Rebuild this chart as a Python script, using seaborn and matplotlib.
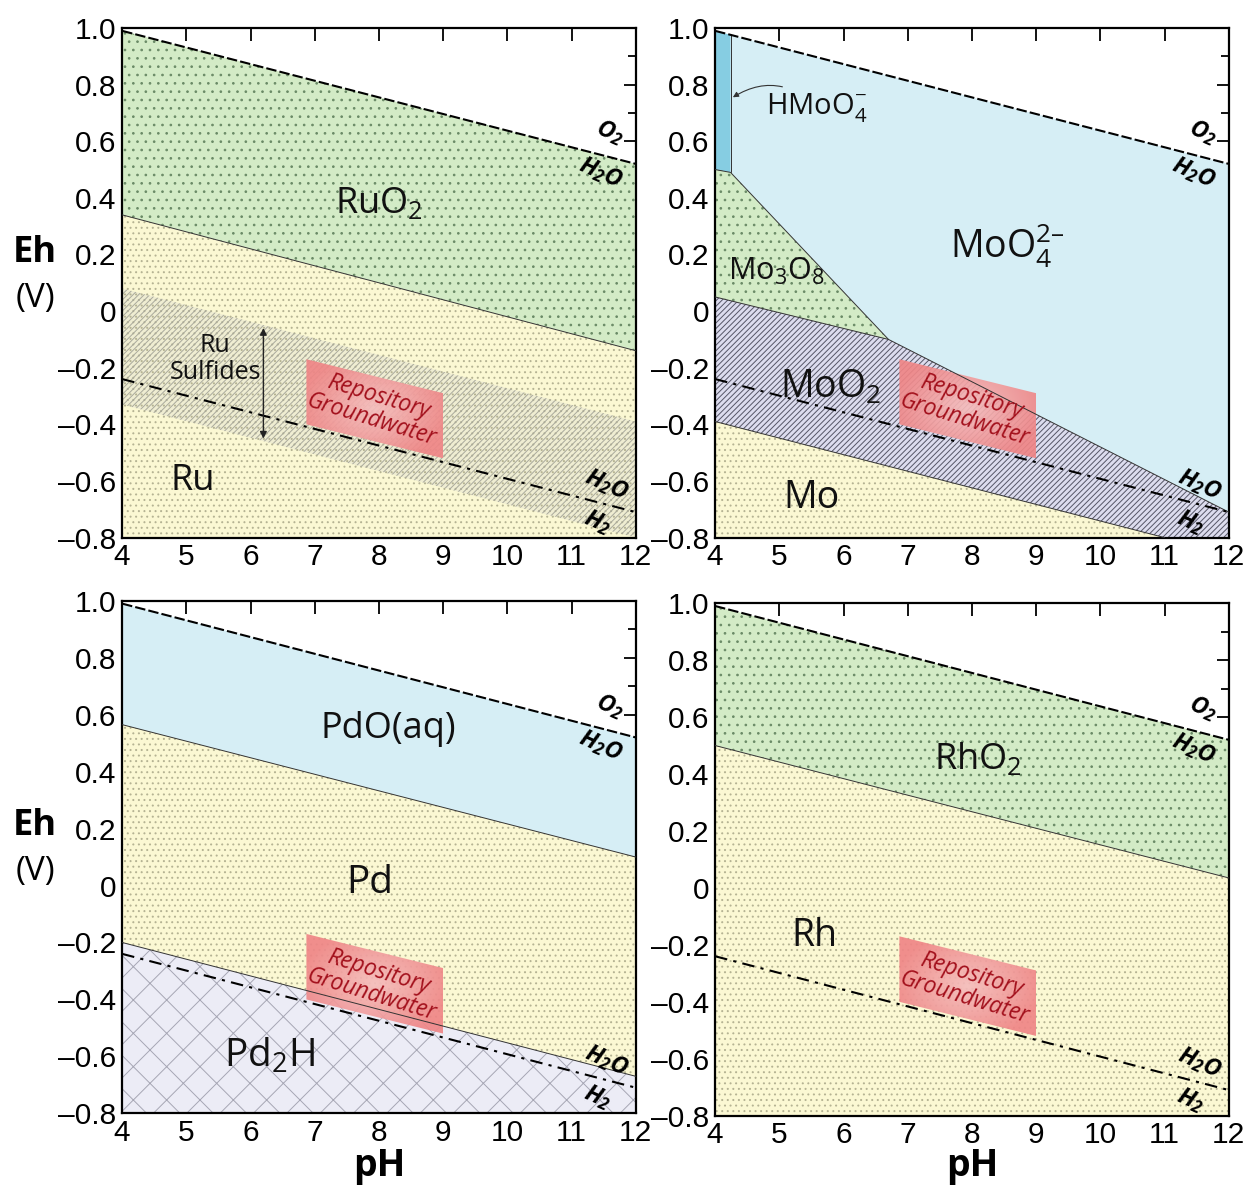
# Eh-pH diagrams for Ru, Mo, Pd and Rh with the repository groundwater field.

import numpy as np
import pandas as pd
import seaborn as sns
import matplotlib.pyplot as plt
from matplotlib.ticker import MultipleLocator, FuncFormatter
from matplotlib.patches import Polygon

sns.set_theme(style="ticks")
plt.rcParams['font.family'] = ['Liberation Sans', 'DejaVu Sans']
plt.rcParams['hatch.linewidth'] = 0.7
plt.rcParams['mathtext.fontset'] = 'custom'
plt.rcParams['mathtext.rm'] = 'Open Sans'
plt.rcParams['mathtext.bf'] = 'Open Sans:italic:bold'

# pH ends of all straight boundaries
ph_ends = [4, 12]

# water stability lines
o2_line = [0.99, 0.52]
h2_line = [-0.24, -0.71]

# Ru panel
ruo2_ru = [0.34, -0.14]
ru_sulf_top = [0.08, -0.39]
ru_sulf_bot = [-0.33, -0.80]

# Mo panel (polygon corners as pH / Eh pairs)
hmoo4_ph = [4.0, 4.0, 4.24, 4.24]
hmoo4_eh = [0.50, 0.99, 0.976, 0.49]
moo4_ph = [4.24, 4.24, 12.0, 12.0, 6.7]
moo4_eh = [0.49, 0.976, 0.52, -0.71, -0.10]
mo3o8_ph = [4.0, 4.24, 6.7, 4.0]
mo3o8_eh = [0.50, 0.49, -0.10, 0.05]
moo2_ph = [4.0, 6.7, 12.0, 12.0, 11.0, 4.0]
moo2_eh = [0.05, -0.10, -0.71, -0.80, -0.80, -0.39]
mo_ph = [4.0, 11.0, 4.0]
mo_eh = [-0.39, -0.80, -0.80]

# Pd panel
pdo_pd = [0.565, 0.10]
pd_pd2h = [-0.20, -0.67]

# Rh panel
rho2_rh = [0.50, 0.035]

# repository groundwater box
box_ph = [6.87, 9.0]
box_top = [-0.17, -0.29]
box_bot = [-0.40, -0.52]

green = "#d3ebc6"
yellow = "#fbf8d3"
blue = "#d6eef5"
dark_blue = "#86cde2"
lavender = "#dcdcee"
lavender2 = "#ececf6"


def eh_fmt(v, pos):
    if abs(v) < 1e-9:
        return "0"
    return ("%.1f" % v).replace("-", "\u2013")


def setup(ax):
    ax.set_xlim(4, 12)
    ax.set_ylim(-0.8, 1.0)
    ax.xaxis.set_major_locator(MultipleLocator(1))
    ax.yaxis.set_major_locator(MultipleLocator(0.2))
    ax.yaxis.set_minor_locator(MultipleLocator(0.1))
    ax.yaxis.set_major_formatter(FuncFormatter(eh_fmt))
    ax.tick_params(which="both", direction="in", top=True, right=True,
                   width=1.3, labelsize=21.5, pad=4, color="black",
                   labelcolor="black")
    ax.tick_params(which="major", length=9)
    ax.tick_params(which="minor", length=6)
    for s in ax.spines.values():
        s.set_linewidth(1.6)
        s.set_color("black")
    ax.set_xlabel("")
    ax.set_ylabel("")


def band(ax, lo, hi, color, hatch=None, hcolor=None, ph=ph_ends):
    ax.fill_between(ph, lo, hi, facecolor=color, edgecolor="none", zorder=1)
    if hatch:
        ax.fill_between(ph, lo, hi, facecolor="none", edgecolor=hcolor,
                        linewidth=0, hatch=hatch, zorder=1.5)


def poly(ax, xs, ys, color, hatch=None, hcolor=None):
    ax.add_patch(Polygon(list(zip(xs, ys)), closed=True, facecolor=color,
                         edgecolor="none", zorder=1))
    if hatch:
        ax.add_patch(Polygon(list(zip(xs, ys)), closed=True, facecolor="none",
                             edgecolor=hcolor, linewidth=0, hatch=hatch, zorder=1.5))


def boundary(ax, xs, ys):
    sns.lineplot(x=xs, y=ys, ax=ax, color="#333333", lw=0.7, zorder=3,
                 estimator=None, sort=False)


def water(ax):
    sns.lineplot(x=ph_ends, y=o2_line, ax=ax, color="black", lw=1.5,
                 linestyle=(0, (5, 1.5)), zorder=4)
    sns.lineplot(x=ph_ends, y=h2_line, ax=ax, color="black", lw=1.5,
                 linestyle=(0, (6, 3, 1.5, 3)), zorder=4)
    wk = dict(fontsize=17, rotation=-24, ha="center", va="center", zorder=6,
              color="black")
    ax.text(11.6, 0.63, r"$\mathbf{O_2}$", **wk)
    ax.text(11.45, 0.49, r"$\mathbf{H_2O}$", **wk)
    ax.text(11.55, -0.615, r"$\mathbf{H_2O}$", **wk)
    ax.text(11.4, -0.745, r"$\mathbf{H_2}$", **wk)


def repository(ax):
    corners = [(box_ph[0], box_top[0]), (box_ph[1], box_top[1]),
               (box_ph[1], box_bot[1]), (box_ph[0], box_bot[0])]
    clip = Polygon(corners, closed=True, facecolor="none", edgecolor="none")
    ax.add_patch(clip)
    gx, gy = np.meshgrid(np.linspace(-1, 1, 80), np.linspace(-1, 1, 80))
    shade = np.clip(np.sqrt(gx ** 2 + gy ** 2) / 1.1, 0, 1)
    im = ax.imshow(shade, cmap=sns.blend_palette(["#f5bcbc", "#ef8586"], as_cmap=True),
                   extent=[box_ph[0], box_ph[1], box_bot[1], box_top[0]],
                   aspect="auto", alpha=0.92, zorder=2, origin="lower")
    im.set_clip_path(clip)
    ax.text(7.93, -0.345, "Repository\nGroundwater", rotation=-17, ha="center",
            va="center", fontsize=16.5, style="italic", color="#a3101c",
            family="Open Sans", linespacing=1.0, zorder=6)


def label(ax, x, y, s, size=26):
    ax.text(x, y, s, fontsize=size, ha="center", va="center", family="Open Sans",
            color="#111111", zorder=6)


fig = plt.figure(figsize=(12.59, 11.92), dpi=100)
ax1 = fig.add_axes([0.097, 0.549, 0.408, 0.4275])
ax2 = fig.add_axes([0.568, 0.549, 0.408, 0.4275])
ax3 = fig.add_axes([0.097, 0.066, 0.408, 0.4300])
ax4 = fig.add_axes([0.568, 0.064, 0.408, 0.4300])

# ---- Ru ----
band(ax1, ruo2_ru, o2_line, green, "..", "#6a8a66")
band(ax1, [-0.8, -0.8], ruo2_ru, yellow, "...", "#b5b393")
band(ax1, ru_sulf_bot, ru_sulf_top, "#efedd2", "//////", "#a9a99c")
boundary(ax1, ph_ends, ruo2_ru)
water(ax1)
repository(ax1)
label(ax1, 8.0, 0.38, "RuO$_2$")
label(ax1, 5.1, -0.6, "Ru")
ax1.text(5.45, -0.17, "Ru\nSulfides", fontsize=18, ha="center", va="center",
         family="Open Sans", linespacing=1.1, zorder=6, color="#111111")
ax1.annotate("", xy=(6.2, -0.05), xytext=(6.2, -0.46),
             arrowprops=dict(arrowstyle="<|-|>", color="#222222", lw=1.0,
                             mutation_scale=10), zorder=6)
setup(ax1)

# ---- Mo ----
poly(ax2, moo4_ph, moo4_eh, blue)
poly(ax2, hmoo4_ph, hmoo4_eh, dark_blue)
poly(ax2, mo3o8_ph, mo3o8_eh, green, "..", "#6a8a66")
poly(ax2, moo2_ph, moo2_eh, lavender, "//////", "#555566")
poly(ax2, mo_ph, mo_eh, yellow, "...", "#b5b393")
boundary(ax2, [4.24, 4.24], [0.49, 0.976])
boundary(ax2, mo3o8_ph[:3], mo3o8_eh[:3])
boundary(ax2, moo4_ph[3:] + [moo2_ph[0]], moo4_eh[3:] + [moo2_eh[0]])
boundary(ax2, mo_ph[:2], mo_eh[:2])
water(ax2)
repository(ax2)
label(ax2, 8.55, 0.23, "MoO$_4^{2\u2013}$", 27)
label(ax2, 4.95, 0.14, "Mo$_3$O$_8$", 22)
label(ax2, 5.8, -0.27, "MoO$_2$", 27)
label(ax2, 5.5, -0.66, "Mo", 27)
ax2.annotate("HMoO$_4^{-}$", xy=(4.24, 0.75), xytext=(4.8, 0.72),
             fontsize=21, family="Open Sans", va="center", ha="left", zorder=6,
             color="#111111",
             arrowprops=dict(arrowstyle="-|>", color="#333333", lw=0.8,
                             connectionstyle="arc3,rad=0.4", mutation_scale=8))
setup(ax2)

# ---- Pd ----
band(ax3, pdo_pd, o2_line, blue)
band(ax3, pd_pd2h, pdo_pd, yellow, "...", "#b5b393")
band(ax3, [-0.8, -0.8], pd_pd2h, lavender2, "x", "#a6a6b4")
boundary(ax3, ph_ends, pdo_pd)
boundary(ax3, ph_ends, pd_pd2h)
water(ax3)
repository(ax3)
label(ax3, 8.15, 0.55, "PdO(aq)")
label(ax3, 7.85, 0.01, "Pd", 28)
label(ax3, 6.3, -0.6, "Pd$_2$H", 28)
setup(ax3)

# ---- Rh ----
band(ax4, rho2_rh, o2_line, green, "..", "#6a8a66")
band(ax4, [-0.8, -0.8], rho2_rh, yellow, "...", "#b5b393")
boundary(ax4, ph_ends, rho2_rh)
water(ax4)
repository(ax4)
label(ax4, 8.1, 0.45, "RhO$_2$")
label(ax4, 5.55, -0.17, "Rh", 27)
setup(ax4)

for y in (0.788, 0.307):
    fig.text(0.028, y, "Eh", fontsize=26, fontweight="bold", ha="center", va="center",
             family="Open Sans", color="black")
    fig.text(0.028, y - 0.038, "(V)", fontsize=24, ha="center", va="center",
             family="Open Sans", color="black")
for x in (0.301, 0.772):
    fig.text(x, 0.022, "pH", fontsize=27, fontweight="bold", ha="center", va="center",
             family="Open Sans", color="black")

fig.savefig("out.png", dpi=100)
